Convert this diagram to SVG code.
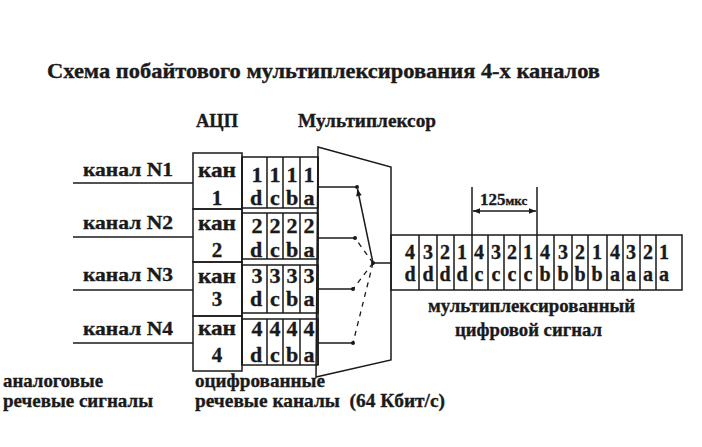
<svg xmlns="http://www.w3.org/2000/svg" width="702" height="447" viewBox="0 0 702 447" font-family="Liberation Serif, serif" font-weight="bold">
<defs>
<style>
text{fill:#1a1a1a;stroke:#1a1a1a;stroke-width:0.35}
.t{font-size:19px}
.big{font-size:21px}
.cell{font-size:22px;text-anchor:middle}
.kan{font-size:21px;text-anchor:middle}
.oc{font-size:20px;text-anchor:middle}
.box{fill:none;stroke:#1a1a1a;stroke-width:1.5}
.ln{stroke:#1a1a1a;stroke-width:1.5;fill:none}
.dash{stroke:#1a1a1a;stroke-width:1.3;fill:none;stroke-dasharray:5 5}
.dot{fill:#1a1a1a}
</style>
<marker id="ah" viewBox="0 0 10 10" refX="10" refY="5" markerWidth="9" markerHeight="7" orient="auto-start-reverse" markerUnits="userSpaceOnUse">
<path d="M0,1 L10,5 L0,9 z" fill="#1a1a1a"/>
</marker>
</defs>
<rect width="702" height="447" fill="#fff"/>

<g id="titles">
<text x="47" y="78" class="big" textLength="553" lengthAdjust="spacingAndGlyphs">Схема побайтового мультиплексирования 4-х каналов</text>
<text x="196" y="127" class="t" textLength="42" lengthAdjust="spacingAndGlyphs">АЦП</text>
<text x="298" y="127" class="t" textLength="138" lengthAdjust="spacingAndGlyphs">Мультиплексор</text>
</g>

<g id="inputs">
<text x="83" y="176" class="t" textLength="90" lengthAdjust="spacingAndGlyphs">канал N1</text>
<text x="83" y="229" class="t" textLength="90" lengthAdjust="spacingAndGlyphs">канал N2</text>
<text x="83" y="281" class="t" textLength="90" lengthAdjust="spacingAndGlyphs">канал N3</text>
<text x="83" y="335" class="t" textLength="90" lengthAdjust="spacingAndGlyphs">канал N4</text>
</g>

<g id="adc">
<g id="adc1">
<rect class="box" x="193" y="153" width="49" height="56"/>
<text class="kan" x="217" y="177" textLength="38" lengthAdjust="spacingAndGlyphs">кан</text>
<text class="kan" x="217" y="205">1</text>
</g>
<g id="adc2">
<rect class="box" x="193" y="209" width="49" height="53"/>
<text class="kan" x="217" y="230" textLength="38" lengthAdjust="spacingAndGlyphs">кан</text>
<text class="kan" x="217" y="257">2</text>
</g>
<g id="adc3">
<rect class="box" x="193" y="262" width="49" height="54"/>
<text class="kan" x="217" y="283" textLength="38" lengthAdjust="spacingAndGlyphs">кан</text>
<text class="kan" x="217" y="306">3</text>
</g>
<g id="adc4">
<rect class="box" x="193" y="316" width="49" height="55"/>
<text class="kan" x="217" y="335" textLength="38" lengthAdjust="spacingAndGlyphs">кан</text>
<text class="kan" x="217" y="362">4</text>
</g>
</g>

<g id="bytes">
<line class="ln" x1="242" y1="157" x2="242" y2="365"/>
<line class="ln" x1="318" y1="157" x2="318" y2="365"/>
<g id="bytes1">
<rect class="box" x="242" y="157" width="76" height="51"/>
<path class="ln" d="M267,157V208M283,157V208M300,157V208"/>
<text class="cell" x="257" y="182">1</text><text class="cell" x="275" y="182">1</text><text class="cell" x="292" y="182">1</text><text class="cell" x="309" y="182">1</text>
<text class="cell" x="256" y="205">d</text><text class="cell" x="275" y="205">c</text><text class="cell" x="292" y="205">b</text><text class="cell" x="309" y="205">a</text>
</g>
<g id="bytes2">
<rect class="box" x="242" y="213" width="76" height="46"/>
<path class="ln" d="M267,213V259M283,213V259M300,213V259"/>
<text class="cell" x="257" y="233">2</text><text class="cell" x="275" y="233">2</text><text class="cell" x="292" y="233">2</text><text class="cell" x="309" y="233">2</text>
<text class="cell" x="256" y="257">d</text><text class="cell" x="275" y="257">c</text><text class="cell" x="292" y="257">b</text><text class="cell" x="309" y="257">a</text>
</g>
<g id="bytes3">
<rect class="box" x="242" y="265" width="76" height="48"/>
<path class="ln" d="M267,265V313M283,265V313M300,265V313"/>
<text class="cell" x="257" y="283">3</text><text class="cell" x="275" y="283">3</text><text class="cell" x="292" y="283">3</text><text class="cell" x="309" y="283">3</text>
<text class="cell" x="256" y="306">d</text><text class="cell" x="275" y="306">c</text><text class="cell" x="292" y="306">b</text><text class="cell" x="309" y="306">a</text>
</g>
<g id="bytes4">
<rect class="box" x="242" y="319" width="76" height="46"/>
<path class="ln" d="M267,319V365M283,319V365M300,319V365"/>
<text class="cell" x="257" y="336">4</text><text class="cell" x="275" y="336">4</text><text class="cell" x="292" y="336">4</text><text class="cell" x="309" y="336">4</text>
<text class="cell" x="256" y="362">d</text><text class="cell" x="275" y="362">c</text><text class="cell" x="292" y="362">b</text><text class="cell" x="309" y="362">a</text>
</g>
</g>

<g id="multiplexer">
<polygon class="box" points="318,147 391,167 391,360 316,377"/>
<circle class="dot" cx="357" cy="187" r="2"/>
<circle class="dot" cx="355" cy="238" r="2"/>
<circle class="dot" cx="353" cy="289" r="2"/>
<circle class="dot" cx="353" cy="343" r="2"/>
<circle class="dot" cx="373" cy="263" r="2"/>
</g>

<g id="output">
<rect class="box" x="391" y="235" width="291" height="55"/>
<path class="ln" d="M419,235V290M437,235V290M454,235V290M472,235V290M488,235V290M504,235V290M520,235V290M537,235V290M554,235V290M572,235V290M588,235V290M607,235V290M623,235V290M640,235V290M656,235V290"/>
<g class="oc">
<text x="410" y="259">4</text><text x="428" y="259">3</text><text x="445" y="259">2</text><text x="462" y="259">1</text>
<text x="479" y="259">4</text><text x="496" y="259">3</text><text x="512" y="259">2</text><text x="528" y="259">1</text>
<text x="545" y="259">4</text><text x="563" y="259">3</text><text x="580" y="259">2</text><text x="597" y="259">1</text>
<text x="615" y="259">4</text><text x="631" y="259">3</text><text x="648" y="259">2</text><text x="664" y="259">1</text>
<text x="410" y="281">d</text><text x="428" y="281">d</text><text x="445" y="281">d</text><text x="462" y="281">d</text>
<text x="479" y="281">c</text><text x="496" y="281">c</text><text x="512" y="281">c</text><text x="528" y="281">c</text>
<text x="545" y="281">b</text><text x="563" y="281">b</text><text x="580" y="281">b</text><text x="597" y="281">b</text>
<text x="615" y="281">a</text><text x="631" y="281">a</text><text x="648" y="281">a</text><text x="664" y="281">a</text>
</g>
</g>

<g id="timing">
<line class="ln" x1="472" y1="187" x2="472" y2="235"/>
<line class="ln" x1="537" y1="187" x2="537" y2="235"/>
<text x="480" y="205" font-size="17">125<tspan font-size="13">мкс</tspan></text>
</g>

<g id="connectors">
<line class="ln" x1="73" y1="183" x2="193" y2="183"/>
<line class="ln" x1="73" y1="237" x2="193" y2="237"/>
<line class="ln" x1="73" y1="290" x2="193" y2="290"/>
<line class="ln" x1="73" y1="343" x2="193" y2="343"/>
<line class="ln" x1="318" y1="187" x2="357" y2="187"/>
<line class="ln" x1="318" y1="238" x2="355" y2="238"/>
<line class="ln" x1="318" y1="289" x2="353" y2="289"/>
<line class="ln" x1="318" y1="343" x2="353" y2="343"/>
<line class="ln" x1="373" y1="263" x2="357.5" y2="189" marker-end="url(#ah)"/>
<line class="dash" x1="373" y1="263" x2="355" y2="238"/>
<line class="dash" x1="373" y1="263" x2="353" y2="289" stroke-dasharray="4 5"/>
<line class="dash" x1="373" y1="263" x2="353" y2="343" stroke-dasharray="6 6"/>
<line class="ln" x1="373" y1="263" x2="391" y2="263"/>
<line class="ln" x1="473" y1="211" x2="536" y2="211" marker-start="url(#ah)" marker-end="url(#ah)"/>
</g>

<g id="labels">
<text x="428" y="312" class="t" textLength="207" lengthAdjust="spacingAndGlyphs">мультиплексированный</text>
<text x="455" y="336" class="t" textLength="147" lengthAdjust="spacingAndGlyphs">цифровой сигнал</text>
<text x="3" y="387" class="t" textLength="100" lengthAdjust="spacingAndGlyphs">аналоговые</text>
<text x="3" y="407" class="t" textLength="150" lengthAdjust="spacingAndGlyphs">речевые сигналы</text>
<text x="195" y="387" class="t" textLength="130" lengthAdjust="spacingAndGlyphs">оцифрованные</text>
<text x="195" y="407" class="t" textLength="250" lengthAdjust="spacingAndGlyphs" xml:space="preserve">речевые каналы  (64 Кбит/с)</text>
</g>
</svg>
